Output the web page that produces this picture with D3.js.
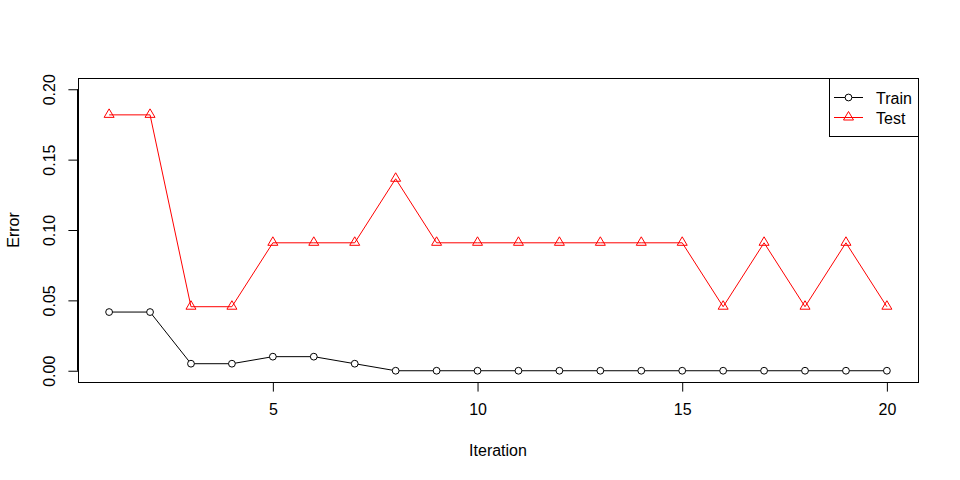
<!DOCTYPE html>
<html>
<head>
<meta charset="utf-8">
<script src="https://cdn.jsdelivr.net/npm/d3@7"></script>
<style>
html,body{margin:0;padding:0;background:#fff;}
svg{display:block;font-family:"Liberation Sans",Arial,sans-serif;}
</style>
</head>
<body>
<svg id="chart" width="960" height="480"></svg>
<script>
const iterations = d3.range(1, 21);
const trainError = [0.0417,0.0417,0.005,0.005,0.01,0.01,0.005,0,0,0,0,0,0,0,0,0,0,0,0,0];
const testError = [0.1818,0.1818,0.0455,0.0455,0.0909,0.0909,0.0909,0.1364,0.0909,0.0909,0.0909,0.0909,0.0909,0.0909,0.0909,0.0455,0.0909,0.0455,0.0909,0.0455];
const xTicks = [5,10,15,20];
const yTicks = [0,0.05,0.10,0.15,0.20];
const seriesNames = ["Train","Test"];

const svg = d3.select("#chart");
const L=78, R=918, T=78, B=382;
const x = d3.scaleLinear().domain([1-0.76, 20+0.76]).range([L,R]);
const y = d3.scaleLinear().domain([-0.008, 0.208]).range([B,T]);

// box
svg.append("rect").attr("x",L).attr("y",T).attr("width",R-L).attr("height",B-T)
  .attr("fill","none").attr("stroke","#000").attr("stroke-width",1).attr("shape-rendering","crispEdges");

// x axis
const xAxis = d3.axisBottom(x).tickValues(xTicks).tickSize(9.6).tickPadding(12).tickFormat(d3.format("d"));
const gx = svg.append("g").attr("transform",`translate(0,${B})`).call(xAxis);
gx.select(".domain").attr("d",`M${x(5)},0.5H${x(20)}`).attr("stroke","#000");
gx.selectAll("text").attr("font-size",16).attr("fill","#000").attr("font-family","Liberation Sans, Arial, sans-serif");
gx.selectAll("line").attr("stroke","#000");

// y axis
const yAxis = d3.axisLeft(y).tickValues(yTicks).tickSize(9.6).tickFormat(d3.format(".2f"));
const gy = svg.append("g").attr("transform",`translate(${L},0)`).call(yAxis);
gy.select(".domain").attr("d",`M-0.5,${y(0)}V${y(0.2)}`).attr("stroke","#000");
gy.selectAll("line").attr("stroke","#000");
gy.selectAll("text")
  .attr("font-size",16).attr("fill","#000").attr("font-family","Liberation Sans, Arial, sans-serif")
  .attr("x",null).attr("dy",null)
  .attr("text-anchor","middle")
  .attr("transform","translate(-23,0) rotate(-90)");

// axis titles
svg.append("text").attr("x",(L+R)/2).attr("y",456).attr("text-anchor","middle")
  .attr("font-size",16).text("Iteration");
svg.append("text").attr("transform",`translate(19,${(T+B)/2}) rotate(-90)`).attr("text-anchor","middle")
  .attr("font-size",16).text("Error");

const line = d3.line().x((d,i)=>x(iterations[i])).y(d=>y(d));

// train
svg.append("path").datum(trainError).attr("d",line).attr("fill","none").attr("stroke","#000").attr("stroke-width",1);
svg.append("g").selectAll("circle").data(trainError).join("circle")
  .attr("cx",(d,i)=>x(iterations[i])).attr("cy",d=>y(d)).attr("r",3.4)
  .attr("fill","#fff").attr("stroke","#000").attr("stroke-width",1);

// test
const tri = "M0,-6L5,2.5L-5,2.5Z";
svg.append("path").datum(testError).attr("d",line).attr("fill","none").attr("stroke","#ff0000").attr("stroke-width",1);
svg.append("g").selectAll("path").data(testError).join("path")
  .attr("transform",(d,i)=>`translate(${x(iterations[i])},${y(d)})`).attr("d",tri)
  .attr("fill","none").attr("stroke","#ff0000").attr("stroke-width",1);

// legend
const lg = svg.append("g");
lg.append("rect").attr("x",829.5).attr("y",T).attr("width",R-829.5).attr("height",58)
  .attr("fill","#fff").attr("stroke","#000").attr("stroke-width",1).attr("shape-rendering","crispEdges");
const ly = [97.5,117.5];
const colors = ["#000","#ff0000"];
seriesNames.forEach((n,i)=>{
  lg.append("line").attr("x1",834).attr("x2",863).attr("y1",ly[i]).attr("y2",ly[i]).attr("stroke",colors[i]);
  if(i===0){
    lg.append("circle").attr("cx",848.5).attr("cy",ly[i]).attr("r",3.4).attr("fill","#fff").attr("stroke","#000");
  } else {
    lg.append("path").attr("transform",`translate(848.5,${ly[i]})`).attr("d",tri).attr("fill","none").attr("stroke","#ff0000");
  }
  lg.append("text").attr("x",876).attr("y",ly[i]+6).attr("font-size",16).text(n);
});
</script>
</body>
</html>
